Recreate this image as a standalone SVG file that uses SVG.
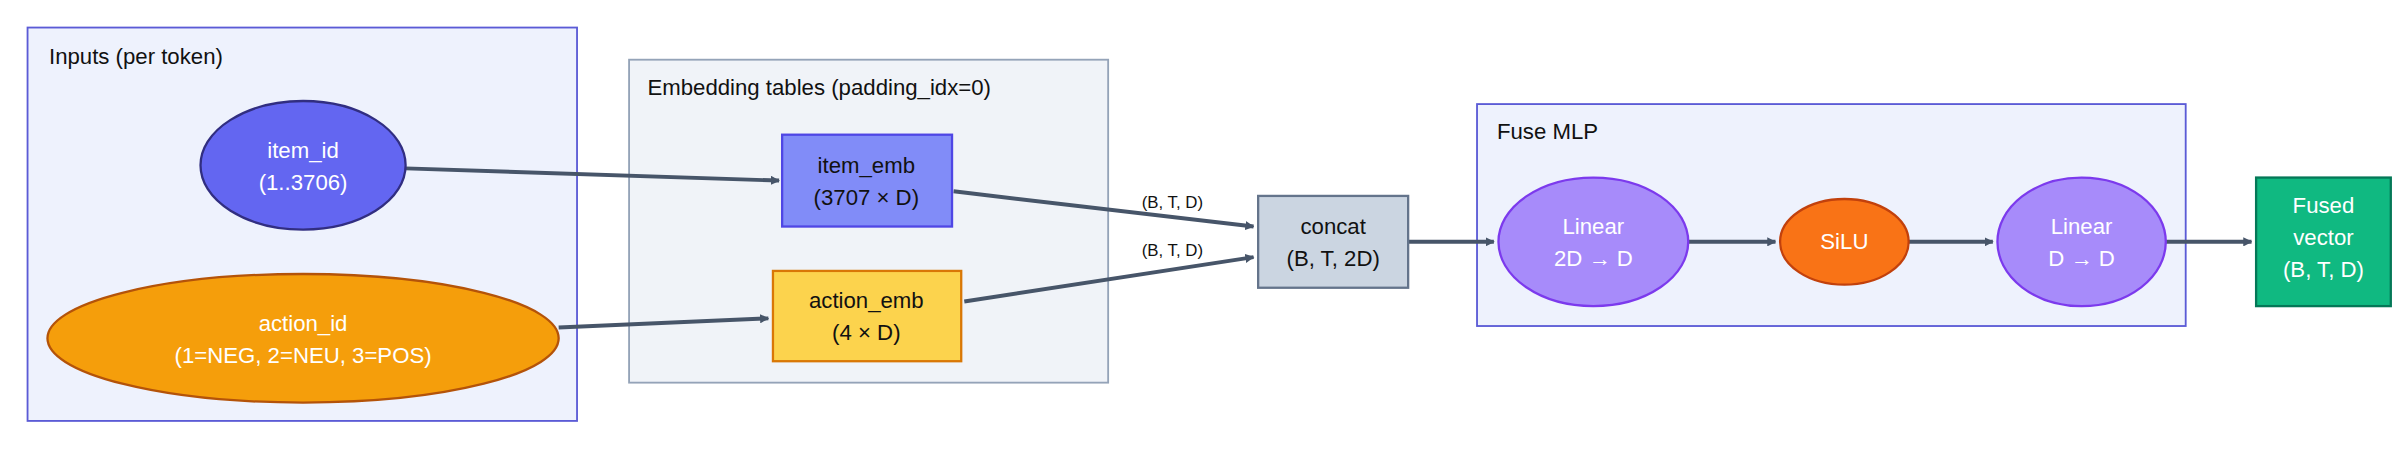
<svg xmlns="http://www.w3.org/2000/svg" width="2400" height="450" viewBox="0 0 2400 450">
<defs>
<style>
text{font-family:"Liberation Sans",Arial,sans-serif}
.cl{font-size:14.5px;fill:#111}
.n{font-size:14.5px;text-anchor:middle}
.w{fill:#fff}.k{fill:#111}
.e{stroke:#475569;stroke-width:2.6;fill:none;marker-end:url(#a)}
.el{font-size:11px;fill:#111;text-anchor:middle}
</style>
<marker id="a" viewBox="0 0 10 10" refX="9" refY="5" markerWidth="6" markerHeight="6" markerUnits="userSpaceOnUse" orient="auto"><path d="M0,0 L10,5 L0,10z" fill="#475569"/></marker>
</defs>
<rect width="2400" height="450" fill="#fff"/>
<g transform="scale(1.5306)">
<g id="cluster-inputs"><rect x="18" y="18" width="359" height="257" fill="#eef2fd" stroke="#5b5bd6" stroke-width="1.2"/><text class="cl" x="32" y="42">Inputs (per token)</text></g>
<g id="cluster-emb"><rect x="411" y="39" width="313" height="211" fill="#f0f3f8" stroke="#94a3b8" stroke-width="1.2"/><text class="cl" x="423" y="62">Embedding tables (padding_idx=0)</text></g>
<g id="cluster-fuse"><rect x="965" y="68" width="463" height="145" fill="#eef2fd" stroke="#5b5bd6" stroke-width="1.2"/><text class="cl" x="978" y="91">Fuse MLP</text></g>
<g id="edges">
<path class="e" d="M265,110 L509,118"/>
<path class="e" d="M365,214 L502,208"/>
<path class="e" d="M623,125 L819,148"/>
<path class="e" d="M630,197 L819,168"/>
<text class="el" x="766" y="136">(B, T, D)</text>
<text class="el" x="766" y="167">(B, T, D)</text>
<path class="e" d="M920,158 L976,158"/>
<path class="e" d="M1103,158 L1160,158"/>
<path class="e" d="M1247,158 L1302,158"/>
<path class="e" d="M1415,158 L1471,158"/>
</g>
<g id="item_id"><ellipse cx="198" cy="108" rx="67" ry="42" fill="#6366f1" stroke="#312e81" stroke-width="1.5"/><text class="n w" x="198" y="103">item_id</text><text class="n w" x="198" y="124">(1..3706)</text></g>
<g id="action_id"><ellipse cx="198" cy="221" rx="167" ry="42" fill="#f59e0b" stroke="#b45309" stroke-width="1.5"/><text class="n w" x="198" y="216">action_id</text><text class="n w" x="198" y="237">(1=NEG, 2=NEU, 3=POS)</text></g>
<g id="item_emb"><rect x="511" y="88" width="111" height="60" fill="#818cf8" stroke="#4f46e5" stroke-width="1.5"/><text class="n k" x="566" y="113">item_emb</text><text class="n k" x="566" y="134">(3707 × D)</text></g>
<g id="action_emb"><rect x="505" y="177" width="123" height="59" fill="#fcd34d" stroke="#d97706" stroke-width="1.5"/><text class="n k" x="566" y="201">action_emb</text><text class="n k" x="566" y="222">(4 × D)</text></g>
<g id="concat"><rect x="822" y="128" width="98" height="60" fill="#cbd5e1" stroke="#64748b" stroke-width="1.5"/><text class="n k" x="871" y="153">concat</text><text class="n k" x="871" y="174">(B, T, 2D)</text></g>
<g id="linear1"><ellipse cx="1041" cy="158" rx="62" ry="42" fill="#a78bfa" stroke="#7c3aed" stroke-width="1.5"/><text class="n w" x="1041" y="153">Linear</text><text class="n w" x="1041" y="174">2D → D</text></g>
<g id="silu"><ellipse cx="1205" cy="158" rx="42" ry="28" fill="#f97316" stroke="#c2410c" stroke-width="1.5"/><text class="n w" x="1205" y="163">SiLU</text></g>
<g id="linear2"><ellipse cx="1360" cy="158" rx="55" ry="42" fill="#a78bfa" stroke="#7c3aed" stroke-width="1.5"/><text class="n w" x="1360" y="153">Linear</text><text class="n w" x="1360" y="174">D → D</text></g>
<g id="fused"><rect x="1474" y="116" width="88" height="84" fill="#10b981" stroke="#047857" stroke-width="1.5"/><text class="n w" x="1518" y="139">Fused</text><text class="n w" x="1518" y="160">vector</text><text class="n w" x="1518" y="181">(B, T, D)</text></g>
</g>
</svg>
